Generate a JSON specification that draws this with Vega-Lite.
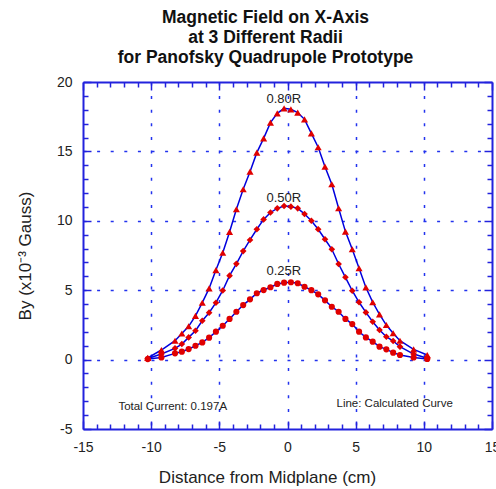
{
  "$schema": "https://vega.github.io/schema/vega-lite/v6.json",
  "width": 409,
  "height": 347,
  "autosize": {"type": "none"},
  "padding": {"left": 83, "top": 82, "right": 4, "bottom": 60},
  "background": "white",
  "config": {"view": {"stroke": null}, "font": "Liberation Sans"},
  "title": {
    "text": ["Magnetic Field on X-Axis", "at 3 Different Radii", "for Panofsky Quadrupole Prototype"],
    "fontSize": 17.5,
    "fontWeight": "bold",
    "font": "Liberation Sans",
    "color": "#111111",
    "lineHeight": 20,
    "anchor": "middle",
    "dx": -22,
    "offset": 9
  },
  "datasets": {
    "pts": [
      {"r": "0.80R", "x": -10.25, "y": 0.12}, {"r": "0.80R", "x": -9.25, "y": 0.69}, {"r": "0.80R", "x": -8.25, "y": 1.36}, {"r": "0.80R", "x": -7.75, "y": 1.88},
      {"r": "0.80R", "x": -7.25, "y": 2.4}, {"r": "0.80R", "x": -6.75, "y": 3.15}, {"r": "0.80R", "x": -6.25, "y": 4.1}, {"r": "0.80R", "x": -5.75, "y": 5.13},
      {"r": "0.80R", "x": -5.25, "y": 6.45}, {"r": "0.80R", "x": -4.75, "y": 7.7}, {"r": "0.80R", "x": -4.25, "y": 9.2}, {"r": "0.80R", "x": -3.75, "y": 10.83},
      {"r": "0.80R", "x": -3.25, "y": 12.27}, {"r": "0.80R", "x": -2.75, "y": 13.54}, {"r": "0.80R", "x": -2.25, "y": 14.91}, {"r": "0.80R", "x": -1.75, "y": 15.94},
      {"r": "0.80R", "x": -1.25, "y": 17.07}, {"r": "0.80R", "x": -0.75, "y": 17.74}, {"r": "0.80R", "x": -0.25, "y": 18.1},
      {"r": "0.80R", "x": 0.25, "y": 18.03}, {"r": "0.80R", "x": 0.75, "y": 17.79}, {"r": "0.80R", "x": 1.25, "y": 17.31}, {"r": "0.80R", "x": 1.75, "y": 16.3},
      {"r": "0.80R", "x": 2.25, "y": 15.3}, {"r": "0.80R", "x": 2.75, "y": 13.9}, {"r": "0.80R", "x": 3.25, "y": 12.63}, {"r": "0.80R", "x": 3.75, "y": 10.9},
      {"r": "0.80R", "x": 4.25, "y": 9.22}, {"r": "0.80R", "x": 4.75, "y": 7.95}, {"r": "0.80R", "x": 5.25, "y": 6.58}, {"r": "0.80R", "x": 5.75, "y": 5.2},
      {"r": "0.80R", "x": 6.25, "y": 4.13}, {"r": "0.80R", "x": 6.75, "y": 3.26}, {"r": "0.80R", "x": 7.25, "y": 2.49}, {"r": "0.80R", "x": 7.75, "y": 1.9},
      {"r": "0.80R", "x": 8.25, "y": 1.36}, {"r": "0.80R", "x": 9.25, "y": 0.74}, {"r": "0.80R", "x": 10.25, "y": 0.33},
      {"r": "0.50R", "x": -10.25, "y": 0.08}, {"r": "0.50R", "x": -9.25, "y": 0.4}, {"r": "0.50R", "x": -8.25, "y": 0.81}, {"r": "0.50R", "x": -7.75, "y": 1.12},
      {"r": "0.50R", "x": -7.25, "y": 1.6}, {"r": "0.50R", "x": -6.75, "y": 2.08}, {"r": "0.50R", "x": -6.25, "y": 2.8}, {"r": "0.50R", "x": -5.75, "y": 3.38},
      {"r": "0.50R", "x": -5.25, "y": 4.1}, {"r": "0.50R", "x": -4.75, "y": 4.98}, {"r": "0.50R", "x": -4.25, "y": 6.05}, {"r": "0.50R", "x": -3.75, "y": 6.9},
      {"r": "0.50R", "x": -3.25, "y": 7.82}, {"r": "0.50R", "x": -2.75, "y": 8.62}, {"r": "0.50R", "x": -2.25, "y": 9.39}, {"r": "0.50R", "x": -1.75, "y": 10.1},
      {"r": "0.50R", "x": -1.25, "y": 10.6}, {"r": "0.50R", "x": -0.75, "y": 10.9}, {"r": "0.50R", "x": -0.25, "y": 11.07},
      {"r": "0.50R", "x": 0.25, "y": 11.02}, {"r": "0.50R", "x": 0.75, "y": 10.9}, {"r": "0.50R", "x": 1.25, "y": 10.49}, {"r": "0.50R", "x": 1.75, "y": 10.0},
      {"r": "0.50R", "x": 2.25, "y": 9.39}, {"r": "0.50R", "x": 2.75, "y": 8.67}, {"r": "0.50R", "x": 3.25, "y": 7.95}, {"r": "0.50R", "x": 3.75, "y": 6.89},
      {"r": "0.50R", "x": 4.25, "y": 5.93}, {"r": "0.50R", "x": 4.75, "y": 4.96}, {"r": "0.50R", "x": 5.25, "y": 4.13}, {"r": "0.50R", "x": 5.75, "y": 3.4},
      {"r": "0.50R", "x": 6.25, "y": 2.73}, {"r": "0.50R", "x": 6.75, "y": 2.13}, {"r": "0.50R", "x": 7.25, "y": 1.65}, {"r": "0.50R", "x": 7.75, "y": 1.34},
      {"r": "0.50R", "x": 8.25, "y": 0.93}, {"r": "0.50R", "x": 9.25, "y": 0.4}, {"r": "0.50R", "x": 10.25, "y": 0.1},
      {"r": "0.25R", "x": -10.25, "y": 0.04}, {"r": "0.25R", "x": -9.25, "y": 0.15}, {"r": "0.25R", "x": -8.25, "y": 0.45}, {"r": "0.25R", "x": -7.75, "y": 0.57},
      {"r": "0.25R", "x": -7.25, "y": 0.76}, {"r": "0.25R", "x": -6.75, "y": 1.0}, {"r": "0.25R", "x": -6.25, "y": 1.24}, {"r": "0.25R", "x": -5.75, "y": 1.58},
      {"r": "0.25R", "x": -5.25, "y": 2.01}, {"r": "0.25R", "x": -4.75, "y": 2.44}, {"r": "0.25R", "x": -4.25, "y": 2.93}, {"r": "0.25R", "x": -3.75, "y": 3.45},
      {"r": "0.25R", "x": -3.25, "y": 3.93}, {"r": "0.25R", "x": -2.75, "y": 4.34}, {"r": "0.25R", "x": -2.25, "y": 4.78}, {"r": "0.25R", "x": -1.75, "y": 5.01},
      {"r": "0.25R", "x": -1.25, "y": 5.21}, {"r": "0.25R", "x": -0.75, "y": 5.45}, {"r": "0.25R", "x": -0.25, "y": 5.54},
      {"r": "0.25R", "x": 0.25, "y": 5.57}, {"r": "0.25R", "x": 0.75, "y": 5.5}, {"r": "0.25R", "x": 1.25, "y": 5.25}, {"r": "0.25R", "x": 1.75, "y": 5.0},
      {"r": "0.25R", "x": 2.25, "y": 4.7}, {"r": "0.25R", "x": 2.75, "y": 4.27}, {"r": "0.25R", "x": 3.25, "y": 3.81}, {"r": "0.25R", "x": 3.75, "y": 3.45},
      {"r": "0.25R", "x": 4.25, "y": 2.93}, {"r": "0.25R", "x": 4.75, "y": 2.56}, {"r": "0.25R", "x": 5.25, "y": 2.01}, {"r": "0.25R", "x": 5.75, "y": 1.6},
      {"r": "0.25R", "x": 6.25, "y": 1.29}, {"r": "0.25R", "x": 6.75, "y": 0.93}, {"r": "0.25R", "x": 7.25, "y": 0.74}, {"r": "0.25R", "x": 7.75, "y": 0.5},
      {"r": "0.25R", "x": 8.25, "y": 0.33}, {"r": "0.25R", "x": 9.25, "y": 0.15}, {"r": "0.25R", "x": 10.25, "y": 0.05}
    ],
    "notes": [
      {"kind": "radius", "x": -0.27, "y": 18.77, "label": "0.80R"},
      {"kind": "radius", "x": -0.27, "y": 11.62, "label": "0.50R"},
      {"kind": "radius", "x": -0.27, "y": 6.4, "label": "0.25R"},
      {"kind": "note", "x": -8.42, "y": -3.41, "label": "Total Current: 0.197A"},
      {"kind": "note", "x": 7.86, "y": -3.2, "label": "Line: Calculated Curve"}
    ]
  },
  "layer": [
    {
      "data": {"name": "pts"},
      "mark": {"type": "line", "color": "#0000dd", "strokeWidth": 1.5},
      "encoding": {
        "x": {
          "field": "x", "type": "quantitative",
          "scale": {"domain": [-15, 15], "nice": false, "zero": false},
          "axis": {
            "orient": "bottom",
            "values": [-15,-14,-13,-12,-11,-10,-9,-8,-7,-6,-5,-4,-3,-2,-1,0,1,2,3,4,5,6,7,8,9,10,11,12,13,14,15],
            "labelExpr": "datum.value % 5 === 0 ? '' + datum.value : ''",
            "labelOverlap": false, "labelFlush": false,
            "domainColor": "#2222dd", "domainWidth": 2,
            "tickColor": "#2222dd", "tickWidth": 1.5,
            "tickSize": {"condition": {"test": "datum.value % 5 === 0", "value": -8}, "value": -5},
            "grid": true, "gridColor": "#2233ee", "gridDash": [3, 10.6], "gridWidth": 1.5,
            "gridOpacity": {"condition": {"test": "datum.value % 5 === 0 && abs(datum.value) < 15", "value": 1}, "value": 0},
            "labelFontSize": 14, "labelColor": "#222222", "labelPadding": 19, "labelFont": "Liberation Sans",
            "title": "Distance from Midplane (cm)", "titleFontSize": 17, "titleFontWeight": "normal",
            "titleColor": "#222222", "titlePadding": 12, "titleX": 184, "titleFont": "Liberation Sans"
          }
        },
        "y": {
          "field": "y", "type": "quantitative",
          "scale": {"domain": [-5, 20], "nice": false, "zero": false},
          "axis": {
            "orient": "left",
            "values": [-5,-4,-3,-2,-1,0,1,2,3,4,5,6,7,8,9,10,11,12,13,14,15,16,17,18,19,20],
            "labelExpr": "datum.value % 5 === 0 ? '' + datum.value : ''",
            "labelOverlap": false, "labelFlush": false,
            "domainColor": "#2222dd", "domainWidth": 2,
            "tickColor": "#2222dd", "tickWidth": 1.5,
            "tickSize": {"condition": {"test": "datum.value % 5 === 0", "value": -8}, "value": -5},
            "grid": true, "gridColor": "#2233ee", "gridDash": [3, 10.6], "gridWidth": 1.5,
            "gridOpacity": {"condition": {"test": "datum.value % 5 === 0 && datum.value > -5 && datum.value < 20", "value": 1}, "value": 0},
            "labelFontSize": 14, "labelColor": "#222222", "labelPadding": 19, "labelFont": "Liberation Sans",
            "title": "By (x10⁻³ Gauss)", "titleFontSize": 17, "titleFontWeight": "normal",
            "titleColor": "#222222", "titlePadding": 22, "titleFont": "Liberation Sans"
          }
        },
        "detail": {"field": "r", "type": "nominal"}
      }
    },
    {
      "data": {"name": "pts"},
      "mark": {"type": "point", "filled": true, "color": "#e00000", "opacity": 1},
      "encoding": {
        "x": {
          "field": "x", "type": "quantitative",
          "axis": {
            "orient": "top",
            "values": [-15,-14,-13,-12,-11,-10,-9,-8,-7,-6,-5,-4,-3,-2,-1,0,1,2,3,4,5,6,7,8,9,10,11,12,13,14,15],
            "labels": false, "title": null, "grid": false,
            "domainColor": "#2222dd", "domainWidth": 2,
            "tickColor": "#2222dd", "tickWidth": 1.5,
            "tickSize": {"condition": {"test": "datum.value % 5 === 0", "value": -8}, "value": -5}
          }
        },
        "y": {
          "field": "y", "type": "quantitative",
          "axis": {
            "orient": "right",
            "values": [-5,-4,-3,-2,-1,0,1,2,3,4,5,6,7,8,9,10,11,12,13,14,15,16,17,18,19,20],
            "labels": false, "title": null, "grid": false,
            "domainColor": "#2222dd", "domainWidth": 2,
            "tickColor": "#2222dd", "tickWidth": 1.5,
            "tickSize": {"condition": {"test": "datum.value % 5 === 0", "value": -8}, "value": -5}
          }
        },
        "shape": {
          "field": "r", "type": "nominal",
          "scale": {"domain": ["0.80R", "0.50R", "0.25R"], "range": ["triangle-up", "diamond", "circle"]},
          "legend": null
        },
        "size": {
          "field": "r", "type": "ordinal",
          "scale": {"domain": ["0.80R", "0.50R", "0.25R"], "range": [50, 38, 52]},
          "legend": null
        }
      }
    },
    {
      "data": {"name": "notes"},
      "transform": [{"filter": "datum.kind === 'radius'"}],
      "mark": {"type": "text", "fontSize": 13, "font": "Liberation Sans", "color": "#222222", "baseline": "middle", "align": "center"},
      "encoding": {
        "x": {"field": "x", "type": "quantitative", "axis": null},
        "y": {"field": "y", "type": "quantitative", "axis": null},
        "text": {"field": "label", "type": "nominal"}
      }
    },
    {
      "data": {"name": "notes"},
      "transform": [{"filter": "datum.kind === 'note'"}],
      "mark": {"type": "text", "fontSize": 11.5, "font": "Liberation Sans", "color": "#222222", "baseline": "middle", "align": "center"},
      "encoding": {
        "x": {"field": "x", "type": "quantitative", "axis": null},
        "y": {"field": "y", "type": "quantitative", "axis": null},
        "text": {"field": "label", "type": "nominal"}
      }
    }
  ],
  "resolve": {"axis": {"x": "independent", "y": "independent"}}
}
